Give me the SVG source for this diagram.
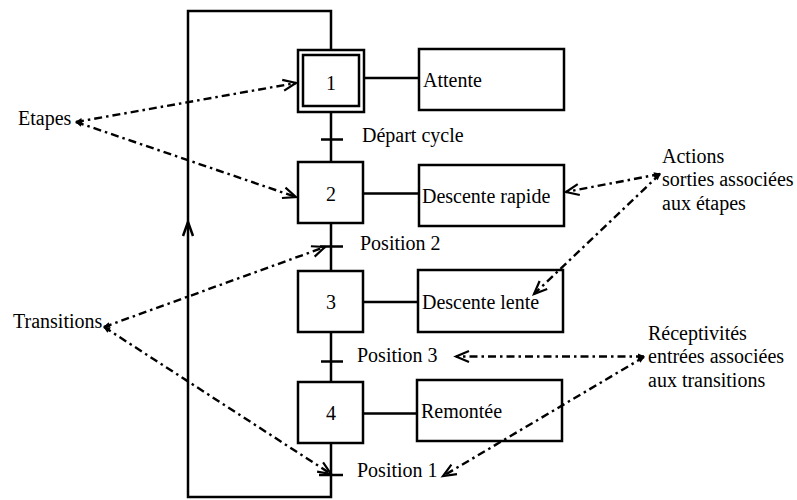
<svg xmlns="http://www.w3.org/2000/svg" width="797" height="500" viewBox="0 0 797 500">
<style>
.box{fill:none;stroke:#000;stroke-width:2.5}
.ln{fill:none;stroke:#000;stroke-width:2.5}
.dd{fill:none;stroke:#000;stroke-width:2.4;stroke-dasharray:8 4 2.5 4;marker-start:url(#st);marker-end:url(#ah)}
text{font-family:"Liberation Serif","DejaVu Serif","Noto Serif",serif;font-size:20px;fill:#000}
.c{text-anchor:middle}
</style>
<defs>
<marker id="ah" markerUnits="userSpaceOnUse" markerWidth="20" markerHeight="20" refX="0" refY="0" viewBox="-16 -10 20 20" orient="auto" overflow="visible">
<path d="M-13,-5.5 L0,0 L-13,5.5" fill="none" stroke="#000" stroke-width="2.2"/>
</marker>
<marker id="st" markerUnits="userSpaceOnUse" markerWidth="10" markerHeight="10" refX="0" refY="0" viewBox="-8 -5 10 10" orient="auto-start-reverse" overflow="visible">
<path d="M1,0 L-6,-3 L-6,3 z" fill="#000"/>
</marker>
</defs>
<g id="step1">
<rect class="box" x="298" y="50" width="66" height="62"/>
<rect class="box" x="303" y="55" width="56" height="51"/>
<text class="c" x="331" y="90" font-family="Liberation Serif, serif">1</text>
</g>
<g id="step2">
<rect class="box" x="298" y="162" width="65" height="61"/>
<text class="c" x="331" y="201" font-family="Liberation Serif, serif">2</text>
</g>
<g id="step3">
<rect class="box" x="298" y="271" width="65" height="61"/>
<text class="c" x="331" y="309" font-family="Liberation Serif, serif">3</text>
</g>
<g id="step4">
<rect class="box" x="298" y="382" width="65" height="61"/>
<text class="c" x="331" y="420" font-family="Liberation Serif, serif">4</text>
</g>
<g id="action1">
<rect class="box" x="419" y="49" width="145" height="61"/>
<text x="423" y="87" font-family="Liberation Serif, serif">Attente</text>
</g>
<g id="action2">
<rect class="box" x="419" y="165" width="145" height="61"/>
<text x="422" y="203" font-family="Liberation Serif, serif">Descente rapide</text>
</g>
<g id="action3">
<rect class="box" x="418" y="270" width="145" height="62"/>
<text x="422" y="309" font-family="Liberation Serif, serif">Descente lente</text>
</g>
<g id="action4">
<rect class="box" x="417" y="380" width="145" height="61"/>
<text x="421" y="418" font-family="Liberation Serif, serif">Remontée</text>
</g>
<g id="connectors">
<path class="ln" d="M331,112 V162 M331,223 V271 M331,332 V382 M331,443 V497 H188 V11 H331 V50"/>
<path class="ln" d="M188,222 L183,236 M188,222 L193,236"/>
<path class="ln" d="M321,139.5 H343 M320,246.5 H343 M321,361.5 H343 M319,475 H343"/>
<path class="ln" d="M364,78 H419 M363,193.5 H419 M363,302 H418 M363,413.5 H417"/>
<path class="dd" d="M76,122 L296,83"/>
<path class="dd" d="M76,122 L296,197"/>
<path class="dd" d="M104,327 L325,247"/>
<path class="dd" d="M104,327 L331,474"/>
<path class="dd" d="M660,174 L566,192"/>
<path class="dd" d="M660,174 L534,294"/>
<path class="dd" d="M644,356.5 L456,356.5"/>
<path class="dd" d="M644,357 L443,476"/>
</g>
<g id="transitions-labels" font-family="Liberation Serif, serif">
<text x="362" y="142" font-family="Liberation Serif, serif">Départ cycle</text>
<text x="360" y="250" font-family="Liberation Serif, serif">Position 2</text>
<text x="357" y="362" font-family="Liberation Serif, serif">Position 3</text>
<text x="357" y="477" font-family="Liberation Serif, serif">Position 1</text>
</g>
<g id="legend-etapes"><text x="18" y="125" font-family="Liberation Serif, serif">Etapes</text></g>
<g id="legend-transitions"><text x="13" y="328" font-family="Liberation Serif, serif">Transitions</text></g>
<g id="legend-actions">
<text x="662" y="163" font-family="Liberation Serif, serif">Actions</text>
<text x="662" y="186" font-family="Liberation Serif, serif">sorties associées</text>
<text x="662" y="210" font-family="Liberation Serif, serif">aux étapes</text>
</g>
<g id="legend-receptivites">
<text x="648" y="340" font-family="Liberation Serif, serif">Réceptivités</text>
<text x="648" y="363" font-family="Liberation Serif, serif">entrées associées</text>
<text x="648" y="387" font-family="Liberation Serif, serif">aux transitions</text>
</g>
</svg>
